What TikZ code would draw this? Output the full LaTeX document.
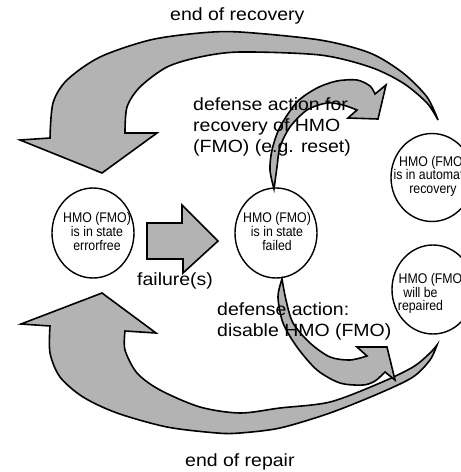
\documentclass[tikz,border=0pt]{standalone}
\usepackage{fontspec}
\setmainfont{Liberation Sans}
\newfontfamily\labelfont[FakeStretch=1.1]{Liberation Sans}
\newfontfamily\statefont[FakeStretch=0.88]{Liberation Sans}
\usetikzlibrary{shapes.geometric}
\definecolor{arrowgray}{HTML}{B3B3B3}

\begin{document}
\begin{tikzpicture}[x=1pt,y=-1pt,
  blockarrow/.style={fill=arrowgray, draw=black, line width=1.6pt, line join=miter},
  statering/.style={shape=ellipse, draw=black, line width=1.4pt, inner sep=0pt,
                    minimum width=82pt, minimum height=90pt},
  % multi-line nodes sit on the baseline of their last line
  statetext/.style={font=\statefont\fontsize{14}{13.7}\selectfont, inner sep=0pt,
                    align=center, anchor=base},
  labeltext/.style={font=\labelfont\fontsize{17.7}{21}\selectfont, inner sep=0pt,
                    align=left, anchor=base west}]
\useasboundingbox (0,0) rectangle (461,472);
\clip (0,0) rectangle (461,472);

% states
\node[statering] (free)   at (93,233) {};
\node[statering] (failed) at (276,233) {};
\node[statering, minimum height=88pt] (auto)   at (432,177.5) {};
\node[statering, minimum height=89pt] (repair) at (433,289.5) {};

% failure(s): straight block arrow
\draw[blockarrow] (147,223) -- (182,223) -- (182,205) -- (218,241)
  -- (183,273) -- (183,259) -- (147,259) -- cycle;

% end of recovery: large curved arrow over the top
\draw[blockarrow]
  plot[smooth] coordinates {(50,138) (53,103) (67,80) (100,57) (150,40) (200,33)
     (240,32) (320,40) (370,53) (403,73) (427,97) (438,120)}
  -- plot[smooth] coordinates {(438,120) (427,103) (403,83) (370,67) (320,55)
     (240,52) (200,57) (167,67) (140,87) (127,107) (125,133)}
  -- (157,133) -- (102,173) -- (20,140) -- cycle;

% end of repair: large curved arrow along the bottom
\draw[blockarrow]
  plot[smooth] coordinates {(50,326) (50,353) (60,377) (83,397) (117,413) (167,427)
     (217,433) (240,433) (280,428) (330,413) (380,393) (413,377) (430,360) (437,345)}
  -- plot[smooth] coordinates {(437,345) (430,353) (413,367) (380,383) (330,402)
     (280,408) (240,413) (200,407) (160,390) (137,373) (125,350) (125,331)}
  -- (156,333) -- (102,293) -- (21,324) -- cycle;

% defense action for recovery: small arrow up and over
\draw[blockarrow]
  plot[smooth] coordinates {(375,94) (370,86) (357,80) (337,81) (317,88) (297,102)
     (280,127) (272,150) (270,170) (274,189)}
  -- plot[smooth] coordinates {(274,189) (277,167) (280,147) (290,127) (307,110)
     (327,103) (343,105) (357,110)}
  -- (348,118) -- (378,119) -- (386,85) -- cycle;

% defense action disable: small arrow down and round
\draw[blockarrow]
  plot[smooth] coordinates {(282,279) (278,297) (283,323) (297,347) (317,370)
     (340,383) (363,385) (375,381) (385,372)}
  -- (395,380) -- (387,347) -- (357,347) -- (367,356)
  -- plot[smooth] coordinates {(367,356) (350,360) (330,357) (310,343) (293,323)
     (286,300) (282,279)}
  -- cycle;

% state texts
\node[statetext] (tfree)   at (97,250.1)  {HMO (FMO)\\is in state\\errorfree};
\node[statetext] (tfailed) at (277,250.1) {HMO (FMO)\\is in state\\failed};
\node[statetext] (tauto)   at (433,193.4) {HMO (FMO)\\is in automatic\\recovery};
\node[statetext] (trepair) at (420.5,310.9) {\hspace*{24pt}HMO (FMO)\\will be\\repaired};

% transition labels
\node[labeltext] (lrecov)  at (170,20.7) {end of recovery};
\node[labeltext] (lrepair) at (185,466)  {end of repair};
\node[labeltext] (lfail)   at (137,285)  {failure(s)};
\node[labeltext] (lreset)  at (193,152.5) {defense action for\\recovery of HMO\\(FMO) (e.g. reset)};
\node[labeltext] (ldisable) at (217,336) {defense action:\\disable HMO (FMO)};
\end{tikzpicture}
\end{document}
